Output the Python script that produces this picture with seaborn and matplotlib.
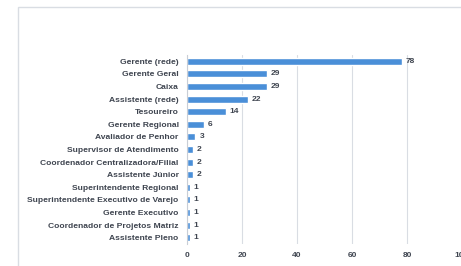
import pandas as pd
import matplotlib
matplotlib.use("Agg")
import matplotlib.pyplot as plt
import seaborn as sns
from matplotlib.patches import Rectangle

cargos = ["Gerente (rede)", "Gerente Geral", "Caixa", "Assistente (rede)", "Tesoureiro",
          "Gerente Regional", "Avaliador de Penhor", "Supervisor de Atendimento",
          "Coordenador Centralizadora/Filial", "Assistente Júnior",
          "Superintendente Regional", "Superintendente Executivo de Varejo",
          "Gerente Executivo", "Coordenador de Projetos Matriz", "Assistente Pleno"]
quantidade = [78, 29, 29, 22, 14, 6, 3, 2, 2, 2, 1, 1, 1, 1, 1]

df = pd.DataFrame({"cargo": cargos, "qtd": quantidade})

sns.set_theme(style="white")
plt.rcParams['font.family'] = ['Liberation Sans', 'DejaVu Sans']

fig = plt.figure(figsize=(4.61, 2.66), dpi=100)
ax = fig.add_axes([187 / 461, 1 - 244 / 266, 275 / 461, (244 - 55) / 266])

sns.barplot(data=df, y="cargo", x="qtd", color="#4a8fd8", width=0.55,
            saturation=1, ax=ax)

ax.set_xlim(0, 100)
ax.set_xticks([0, 20, 40, 60, 80, 100])
ax.xaxis.grid(True, color="#d9dde3", linewidth=0.8)
ax.set_axisbelow(True)
for s in ["top", "right", "bottom"]:
    ax.spines[s].set_visible(False)
ax.spines["left"].set_color("#c9ced6")
ax.spines["left"].set_linewidth(0.8)
ax.set_xlabel("")
ax.set_ylabel("")
ax.tick_params(axis="both", length=0, pad=6, colors="#3f4550")
plt.setp(ax.get_yticklabels(), fontsize=6.1, fontweight="bold")
plt.setp(ax.get_xticklabels(), fontsize=6, fontweight="bold")

for i, v in enumerate(quantidade):
    ax.annotate(str(v), (v, i), xytext=(3, 0), textcoords="offset points",
                va="center", ha="left", fontsize=6, fontweight="bold", color="#3f4550")

fig.patches.append(Rectangle((18 / 461, -0.1), 1.0, 1 - 7 / 266 + 0.1,
                             transform=fig.transFigure, fill=False,
                             edgecolor="#d9dde3", linewidth=1))

fig.savefig("out.png", dpi=100)
